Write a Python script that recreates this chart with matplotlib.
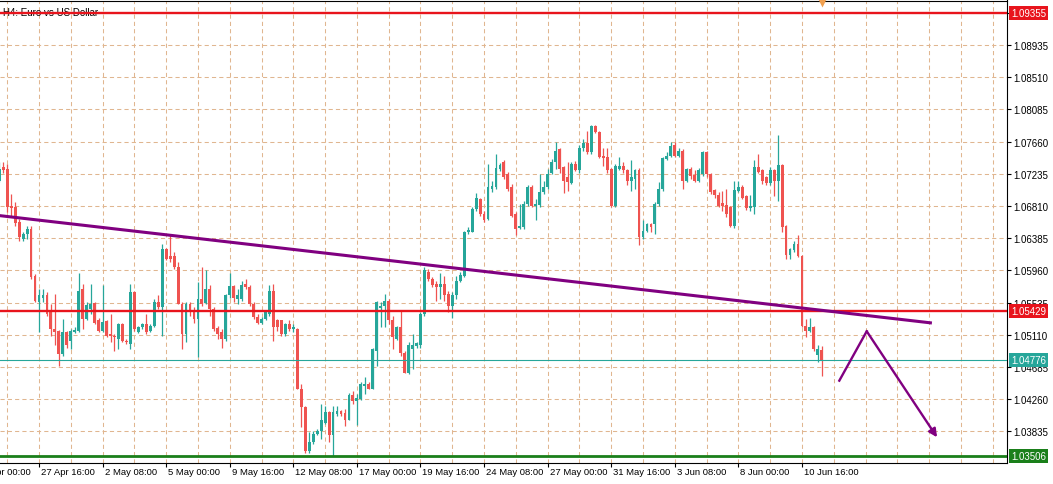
import numpy as np
import matplotlib.pyplot as plt

plt.rcParams['font.family'] = ['Liberation Sans', 'DejaVu Sans']

# EURUSD H4 bars (one row = 8 bars = one grid cell)
opens = [
    1.0714, 1.0732, 1.0730, 1.0681, 1.0679, 1.0660, 1.0637, 1.0644,
    1.0651, 1.0589, 1.0554, 1.0559, 1.0564, 1.0541, 1.0519, 1.0516,
    1.0486, 1.0514, 1.0503, 1.0515, 1.0516, 1.0571, 1.0532, 1.0545,
    1.0553, 1.0531, 1.0516, 1.0529, 1.0512, 1.0510, 1.0505, 1.0525,
    1.0503, 1.0499, 1.0567, 1.0515, 1.0521, 1.0525, 1.0516, 1.0523,
    1.0554, 1.0547, 1.0624, 1.0615, 1.0615, 1.0600, 1.0552, 1.0512,
    1.0552, 1.0543, 1.0532, 1.0558, 1.0553, 1.0571, 1.0545, 1.0520,
    1.0514, 1.0505, 1.0563, 1.0575, 1.0558, 1.0558, 1.0578, 1.0574,
    1.0552, 1.0534, 1.0527, 1.0532, 1.0538, 1.0569, 1.0530, 1.0530,
    1.0512, 1.0525, 1.0519, 1.0519, 1.0440, 1.0415, 1.0357, 1.0370,
    1.0380, 1.0384, 1.0395, 1.0409, 1.0378, 1.0406, 1.0410, 1.0408,
    1.0399, 1.0431, 1.0424, 1.0426, 1.0444, 1.0446, 1.0440, 1.0490,
    1.0546, 1.0549, 1.0555, 1.0531, 1.0506, 1.0521, 1.0487, 1.0461,
    1.0492, 1.0496, 1.0497, 1.0538, 1.0594, 1.0585, 1.0578, 1.0574,
    1.0578, 1.0565, 1.0549, 1.0563, 1.0582, 1.0589, 1.0646, 1.0647,
    1.0677, 1.0690, 1.0670, 1.0664, 1.0703, 1.0706, 1.0730, 1.0739,
    1.0723, 1.0706, 1.0670, 1.0652, 1.0653, 1.0684, 1.0706, 1.0681,
    1.0682, 1.0699, 1.0706, 1.0725, 1.0739, 1.0756, 1.0732, 1.0719,
    1.0711, 1.0737, 1.0728, 1.0757, 1.0764, 1.0752, 1.0786, 1.0779,
    1.0747, 1.0745, 1.0730, 1.0681, 1.0730, 1.0734, 1.0728, 1.0714,
    1.0717, 1.0728, 1.0640, 1.0648, 1.0657, 1.0657, 1.0684, 1.0703,
    1.0743, 1.0747, 1.0761, 1.0747, 1.0754, 1.0714, 1.0730, 1.0722,
    1.0714, 1.0723, 1.0752, 1.0723, 1.0702, 1.0696, 1.0685, 1.0682,
    1.0679, 1.0654, 1.0701, 1.0706, 1.0694, 1.0678, 1.0679, 1.0732,
    1.0728, 1.0719, 1.0711, 1.0728, 1.0714, 1.0735, 1.0654, 1.0616,
    1.0623, 1.0631, 1.0615, 1.0523, 1.0516, 1.0521, 1.0484, 1.0491,
]
highs = [
    1.0739, 1.0739, 1.0736, 1.0697, 1.0686, 1.0664, 1.0646, 1.0654,
    1.0654, 1.0591, 1.0571, 1.0571, 1.0567, 1.0552, 1.0565, 1.0517,
    1.0532, 1.0516, 1.0519, 1.0521, 1.0593, 1.0578, 1.0554, 1.0578,
    1.0554, 1.0533, 1.0576, 1.0530, 1.0538, 1.0512, 1.0527, 1.0527,
    1.0505, 1.0578, 1.0569, 1.0523, 1.0527, 1.0538, 1.0525, 1.0558,
    1.0563, 1.0631, 1.0626, 1.0642, 1.0620, 1.0607, 1.0554, 1.0554,
    1.0554, 1.0547, 1.0580, 1.0600, 1.0596, 1.0576, 1.0547, 1.0523,
    1.0519, 1.0565, 1.0593, 1.0577, 1.0571, 1.0582, 1.0585, 1.0576,
    1.0554, 1.0538, 1.0534, 1.0543, 1.0576, 1.0578, 1.0532, 1.0531,
    1.0527, 1.0530, 1.0525, 1.0520, 1.0446, 1.0417, 1.0383, 1.0384,
    1.0387, 1.0420, 1.0417, 1.0411, 1.0417, 1.0417, 1.0412, 1.0413,
    1.0434, 1.0437, 1.0433, 1.0448, 1.0455, 1.0448, 1.0493, 1.0556,
    1.0554, 1.0565, 1.0558, 1.0536, 1.0523, 1.0543, 1.0490, 1.0501,
    1.0512, 1.0502, 1.0541, 1.0600, 1.0598, 1.0587, 1.0582, 1.0593,
    1.0589, 1.0569, 1.0568, 1.0589, 1.0594, 1.0648, 1.0653, 1.0679,
    1.0698, 1.0692, 1.0674, 1.0736, 1.0714, 1.0750, 1.0738, 1.0741,
    1.0726, 1.0710, 1.0673, 1.0684, 1.0688, 1.0708, 1.0708, 1.0690,
    1.0723, 1.0714, 1.0730, 1.0743, 1.0765, 1.0758, 1.0734, 1.0739,
    1.0739, 1.0740, 1.0761, 1.0769, 1.0780, 1.0788, 1.0788, 1.0780,
    1.0758, 1.0757, 1.0731, 1.0736, 1.0745, 1.0739, 1.0730, 1.0741,
    1.0730, 1.0731, 1.0662, 1.0659, 1.0659, 1.0686, 1.0712, 1.0745,
    1.0752, 1.0765, 1.0765, 1.0758, 1.0756, 1.0731, 1.0732, 1.0728,
    1.0731, 1.0753, 1.0753, 1.0725, 1.0703, 1.0699, 1.0701, 1.0703,
    1.0681, 1.0714, 1.0714, 1.0708, 1.0696, 1.0696, 1.0741, 1.0750,
    1.0730, 1.0721, 1.0732, 1.0730, 1.0775, 1.0736, 1.0656, 1.0626,
    1.0635, 1.0643, 1.0616, 1.0532, 1.0533, 1.0523, 1.0497, 1.0496,
]
lows = [
    1.0712, 1.0725, 1.0673, 1.0668, 1.0655, 1.0635, 1.0635, 1.0637,
    1.0585, 1.0554, 1.0514, 1.0554, 1.0536, 1.0510, 1.0497, 1.0470,
    1.0483, 1.0494, 1.0492, 1.0513, 1.0514, 1.0519, 1.0530, 1.0538,
    1.0525, 1.0514, 1.0514, 1.0508, 1.0501, 1.0490, 1.0492, 1.0501,
    1.0499, 1.0492, 1.0516, 1.0513, 1.0519, 1.0512, 1.0514, 1.0521,
    1.0545, 1.0510, 1.0609, 1.0607, 1.0598, 1.0551, 1.0492, 1.0501,
    1.0536, 1.0527, 1.0481, 1.0549, 1.0552, 1.0536, 1.0516, 1.0505,
    1.0494, 1.0503, 1.0560, 1.0554, 1.0552, 1.0556, 1.0571, 1.0549,
    1.0532, 1.0525, 1.0525, 1.0530, 1.0536, 1.0503, 1.0516, 1.0510,
    1.0510, 1.0516, 1.0515, 1.0439, 1.0389, 1.0355, 1.0355, 1.0367,
    1.0378, 1.0373, 1.0393, 1.0370, 1.0351, 1.0404, 1.0404, 1.0391,
    1.0398, 1.0420, 1.0392, 1.0425, 1.0433, 1.0439, 1.0439, 1.0470,
    1.0521, 1.0521, 1.0525, 1.0492, 1.0504, 1.0483, 1.0460, 1.0459,
    1.0466, 1.0494, 1.0494, 1.0536, 1.0582, 1.0574, 1.0556, 1.0558,
    1.0556, 1.0541, 1.0533, 1.0558, 1.0580, 1.0587, 1.0644, 1.0646,
    1.0674, 1.0668, 1.0660, 1.0662, 1.0699, 1.0703, 1.0727, 1.0717,
    1.0701, 1.0666, 1.0642, 1.0651, 1.0651, 1.0681, 1.0679, 1.0662,
    1.0679, 1.0697, 1.0703, 1.0723, 1.0730, 1.0725, 1.0698, 1.0701,
    1.0710, 1.0727, 1.0725, 1.0754, 1.0750, 1.0750, 1.0777, 1.0744,
    1.0734, 1.0725, 1.0679, 1.0680, 1.0728, 1.0725, 1.0708, 1.0701,
    1.0703, 1.0629, 1.0637, 1.0646, 1.0646, 1.0644, 1.0681, 1.0701,
    1.0741, 1.0745, 1.0745, 1.0745, 1.0703, 1.0712, 1.0717, 1.0712,
    1.0712, 1.0721, 1.0719, 1.0697, 1.0692, 1.0679, 1.0675, 1.0666,
    1.0653, 1.0652, 1.0699, 1.0690, 1.0676, 1.0675, 1.0671, 1.0724,
    1.0710, 1.0709, 1.0709, 1.0694, 1.0688, 1.0646, 1.0611, 1.0611,
    1.0620, 1.0613, 1.0521, 1.0508, 1.0514, 1.0490, 1.0475, 1.0456,
]
closes = [
    1.0730, 1.0728, 1.0679, 1.0678, 1.0659, 1.0640, 1.0644, 1.0651,
    1.0587, 1.0556, 1.0563, 1.0564, 1.0538, 1.0519, 1.0515, 1.0486,
    1.0514, 1.0497, 1.0516, 1.0517, 1.0569, 1.0532, 1.0550, 1.0552,
    1.0527, 1.0516, 1.0528, 1.0510, 1.0509, 1.0508, 1.0525, 1.0503,
    1.0501, 1.0567, 1.0519, 1.0521, 1.0525, 1.0515, 1.0523, 1.0554,
    1.0547, 1.0624, 1.0611, 1.0611, 1.0600, 1.0552, 1.0512, 1.0552,
    1.0543, 1.0532, 1.0558, 1.0552, 1.0571, 1.0545, 1.0519, 1.0512,
    1.0505, 1.0563, 1.0575, 1.0560, 1.0563, 1.0576, 1.0574, 1.0552,
    1.0534, 1.0527, 1.0532, 1.0541, 1.0569, 1.0521, 1.0521, 1.0512,
    1.0525, 1.0519, 1.0521, 1.0440, 1.0415, 1.0357, 1.0369, 1.0380,
    1.0384, 1.0398, 1.0409, 1.0378, 1.0409, 1.0410, 1.0406, 1.0398,
    1.0431, 1.0424, 1.0428, 1.0446, 1.0446, 1.0440, 1.0492, 1.0554,
    1.0549, 1.0555, 1.0530, 1.0508, 1.0521, 1.0487, 1.0461, 1.0497,
    1.0497, 1.0500, 1.0538, 1.0596, 1.0584, 1.0576, 1.0574, 1.0578,
    1.0564, 1.0549, 1.0564, 1.0582, 1.0590, 1.0646, 1.0649, 1.0677,
    1.0691, 1.0670, 1.0662, 1.0706, 1.0708, 1.0731, 1.0735, 1.0719,
    1.0703, 1.0668, 1.0651, 1.0655, 1.0684, 1.0706, 1.0681, 1.0684,
    1.0700, 1.0706, 1.0723, 1.0739, 1.0754, 1.0730, 1.0714, 1.0712,
    1.0736, 1.0729, 1.0758, 1.0764, 1.0752, 1.0786, 1.0778, 1.0745,
    1.0744, 1.0728, 1.0681, 1.0734, 1.0734, 1.0728, 1.0714, 1.0719,
    1.0728, 1.0640, 1.0648, 1.0657, 1.0653, 1.0684, 1.0703, 1.0744,
    1.0747, 1.0760, 1.0747, 1.0754, 1.0714, 1.0730, 1.0720, 1.0714,
    1.0729, 1.0752, 1.0723, 1.0699, 1.0696, 1.0681, 1.0681, 1.0670,
    1.0654, 1.0702, 1.0706, 1.0692, 1.0678, 1.0681, 1.0732, 1.0726,
    1.0714, 1.0711, 1.0728, 1.0714, 1.0735, 1.0653, 1.0616, 1.0624,
    1.0631, 1.0615, 1.0522, 1.0516, 1.0521, 1.0492, 1.0492, 1.04776,
]

# time axis: a label every 16 bars, the first one 6 bars before bar 0
date_labels = ["25 Apr 00:00", "27 Apr 16:00", "2 May 08:00", "5 May 00:00",
               "9 May 16:00", "12 May 08:00", "17 May 00:00", "19 May 16:00",
               "24 May 08:00", "27 May 00:00", "31 May 16:00", "3 Jun 08:00",
               "8 Jun 00:00", "10 Jun 16:00"]
label_bars = [-6 + 16 * i for i in range(len(date_labels))]

price_ticks = [1.03835, 1.04260, 1.04685, 1.05110, 1.05535, 1.05960, 1.06385,
               1.06810, 1.07235, 1.07660, 1.08085, 1.08510, 1.08935, 1.09360]

# horizontal levels drawn on the chart
level_top = 1.09355
level_mid = 1.05429
level_bid = 1.04776
level_low = 1.03506

# trend line and the projected path (bar, price)
trend_bars = [0, 234.7]
trend_prices = [1.06683, 1.05265]
path_bars = [211.4, 218.3, 236.0]
path_prices = [1.04504, 1.05156, 1.03756]

bull = '#26a69a'
bear = '#ef5350'
red = '#e8141c'
green = '#1a7f1a'
purple = '#800080'
grid_c = '#e0b690'

fig = plt.figure(figsize=(10.53, 4.85), dpi=100)
ax = fig.add_axes([0, 21 / 485, 1007 / 1053, 462.5 / 485])
ax.set_xlim(0.186, 253.6)
ax.set_ylim(1.03417, 1.09522)

# grid
for k in range(2, 254, 8):
    ax.axvline(k, color=grid_c, lw=0.75, ls=(0, (4, 3)), zorder=1)
for p in [1.03410] + price_ticks:
    ax.axhline(p, color=grid_c, lw=0.75, ls=(0, (4, 3)), zorder=1)

# candles
o, h, l, c = (np.array(v) for v in (opens, highs, lows, closes))
x = np.arange(len(o))
cols = np.where(c >= o, bull, bear)
ax.vlines(x, l, h, colors=cols, lw=0.9, zorder=3)
ax.bar(x, np.maximum(np.abs(c - o), 0.00008), bottom=np.minimum(o, c),
       width=0.72, color=cols, linewidth=0, zorder=4)

# levels
ax.axhline(level_top, color=red, lw=1.7, zorder=5)
ax.axhline(level_mid, color=red, lw=1.7, zorder=5)
ax.axhline(level_bid, color=bull, lw=0.8, zorder=5)
ax.axhline(level_low, color=green, lw=2.0, zorder=5)

# trend line + arrow
ax.plot(trend_bars, trend_prices, color=purple, lw=2.2, zorder=6,
        solid_capstyle='butt')
ax.plot(path_bars[:2], path_prices[:2], color=purple, lw=1.7, zorder=6)
ax.annotate('', xy=(path_bars[2], path_prices[2]),
            xytext=(path_bars[1], path_prices[1]),
            arrowprops=dict(arrowstyle='-|>', color=purple, lw=1.7,
                            mutation_scale=12, shrinkA=0, shrinkB=0),
            zorder=6)

# small marker at the top
ax.plot([207], [1.09500], marker='v', color='#f0a050', ms=6.5, zorder=7,
        clip_on=False, mec='none')

ax.text(0.003, 0.9686, 'H4: Euro vs US Dollar', transform=ax.transAxes,
        fontsize=7, va='baseline', ha='left', zorder=4)

# axes styling
for s in ['top', 'right', 'bottom']:
    ax.spines[s].set_color('black')
    ax.spines[s].set_linewidth(0.8)
ax.spines['left'].set_visible(False)

ax.yaxis.tick_right()
ax.set_yticks(price_ticks)
# top tick sits under the 1.09355 box, so it gets no text
ax.set_yticklabels(['%.5f' % p for p in price_ticks[:-1]] + [''])
ax.tick_params(axis='y', length=3, width=0.8, pad=1.5, labelsize=7)

ax.set_xticks([b for b in label_bars if b > 0])
ax.set_xticklabels([])
ax.tick_params(axis='x', length=3, width=0.8)
xtr = ax.get_xaxis_transform()
for b, lab in zip(label_bars, date_labels):
    ax.text(b + 0.5, -0.008, lab, transform=xtr, ha='left', va='top',
            fontsize=6.8, clip_on=False)

# price boxes on the right scale
ytr = ax.get_yaxis_transform()
for val, col in [(level_top, red), (level_mid, red), (level_bid, bull),
                 (level_low, green)]:
    ax.text(1.004, val, '%.5f' % val, transform=ytr, ha='left', va='center',
            color='white', fontsize=7, clip_on=False, zorder=8,
            bbox=dict(boxstyle='square,pad=0.2', fc=col, ec='none'))

fig.savefig('out.png', dpi=100)
